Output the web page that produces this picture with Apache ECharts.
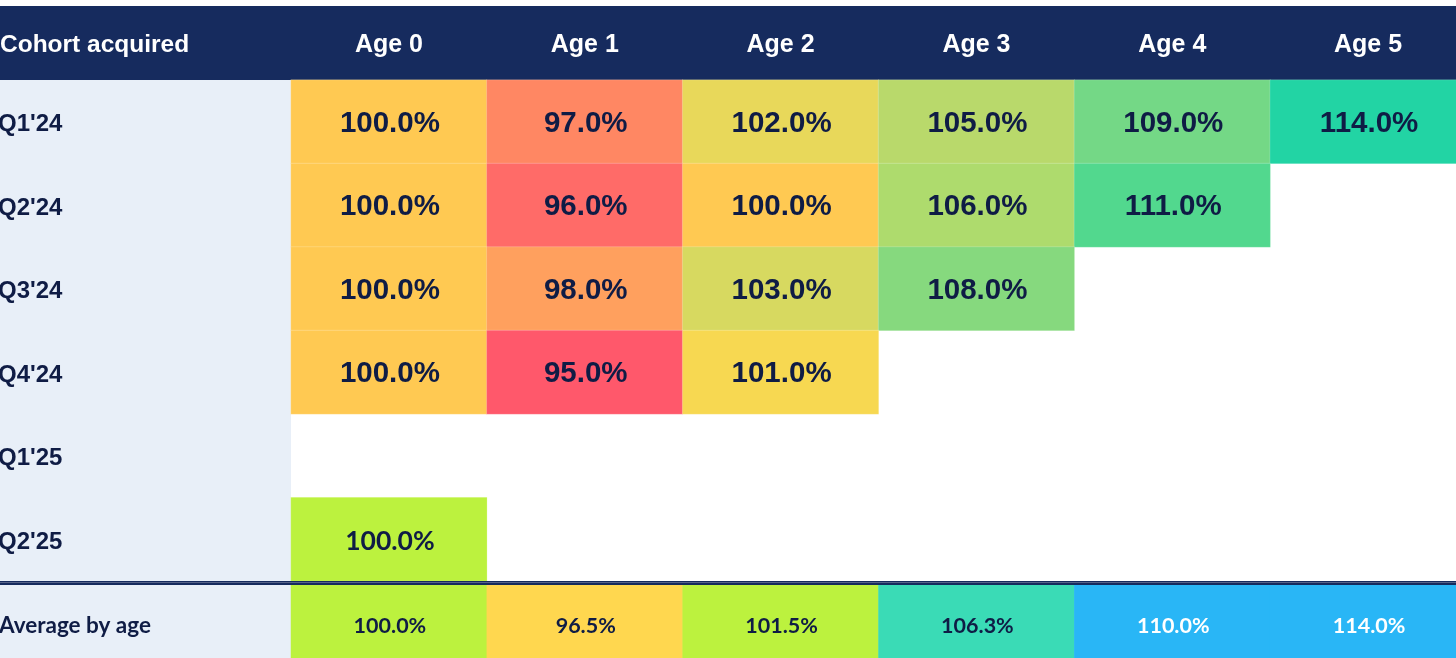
<!DOCTYPE html>
<html>
<head>
<meta charset="utf-8">
<script src="https://cdn.jsdelivr.net/npm/echarts@6/dist/echarts.min.js"></script>
<style>
  html, body { margin: 0; padding: 0; background: #fff; }
  #main { width: 1456px; height: 658px; }
</style>
</head>
<body>
<div id="main"></div>
<script>
// table data
var ages = ['Age 0', 'Age 1', 'Age 2', 'Age 3', 'Age 4', 'Age 5'];
var cohorts = ["Q1'24", "Q2'24", "Q3'24", "Q4'24", "Q1'25", "Q2'25"];
var q1_24 = [100.0, 97.0, 102.0, 105.0, 109.0, 114.0];
var q2_24 = [100.0, 96.0, 100.0, 106.0, 111.0];
var q3_24 = [100.0, 98.0, 103.0, 108.0];
var q4_24 = [100.0, 95.0, 101.0];
var q1_25 = [];
var q2_25 = [100.0];
var averageByAge = [100.0, 96.5, 101.5, 106.3, 110.0, 114.0];

var cohortRows = [q1_24, q2_24, q3_24, q4_24, q1_25, q2_25];

var navy = '#162b5e';
var ink = '#0f1c45';

// colour scale for the older cohorts (red -> yellow -> green)
var bodyStops = [
    [95, '#ff586b'], [96, '#ff6b68'], [97, '#ff8763'], [98, '#ffa05e'],
    [100, '#ffc952'], [101, '#f7d851'], [102, '#e8d85a'], [103, '#d7d960'],
    [105, '#b9d96b'], [106, '#aedb6d'], [108, '#86d97e'], [109, '#74d886'],
    [111, '#52d88e'], [114, '#22d4a4']
];

function hex2rgb(h) {
    return [parseInt(h.substr(1, 2), 16), parseInt(h.substr(3, 2), 16), parseInt(h.substr(5, 2), 16)];
}

function bodyColor(v) {
    if (v <= bodyStops[0][0]) return bodyStops[0][1];
    for (var i = 1; i < bodyStops.length; i++) {
        if (v <= bodyStops[i][0]) {
            var a = bodyStops[i - 1], b = bodyStops[i];
            var t = (v - a[0]) / (b[0] - a[0]);
            var ca = hex2rgb(a[1]), cb = hex2rgb(b[1]);
            return 'rgb(' + [0, 1, 2].map(function (k) {
                return Math.round(ca[k] + (cb[k] - ca[k]) * t);
            }).join(',') + ')';
        }
    }
    return bodyStops[bodyStops.length - 1][1];
}

// banded scale used for the newest cohort and the averages
function bandColor(v) {
    if (v < 98) return '#ffd74f';
    if (v < 104) return '#bcf23e';
    if (v < 108) return '#3adbb6';
    return '#29b6f6';
}

var bodyData = [];
var newData = [];
cohortRows.forEach(function (row, r) {
    row.forEach(function (v, c) {
        if (r >= 5) {
            newData.push({ value: [c, r, v], itemStyle: { color: bandColor(v) } });
        } else {
            bodyData.push({ value: [c, r, v], itemStyle: { color: bodyColor(v) } });
        }
    });
});

var avgData = averageByAge.map(function (v, c) {
    return {
        value: [c, 0, v],
        itemStyle: { color: bandColor(v) },
        label: { color: v >= 108 ? '#ffffff' : ink }
    };
});

function pct(p) { return p.value[2].toFixed(1) + '%'; }

var chart = echarts.init(document.getElementById('main'));

var option = {
    animation: false,
    graphic: [
        { type: 'rect', z: -10, shape: { x: 0, y: 6, width: 1456, height: 74 }, style: { fill: navy } },
        { type: 'rect', z: -10, shape: { x: 0, y: 80, width: 291, height: 578 }, style: { fill: '#e8eff8' } },
        { type: 'rect', z: 50, shape: { x: 0, y: 581, width: 1456, height: 4 }, style: { fill: navy } },
        { type: 'rect', z: 51, shape: { x: 0, y: 582.2, width: 1456, height: 0.7 }, style: { fill: '#6d7799' } },
        {
            type: 'text', z: 60, x: 0, y: 45,
            style: {
                text: 'Cohort acquired', fill: '#ffffff', fontSize: 24.5, fontWeight: 'bold',
                fontFamily: 'Liberation Sans', verticalAlign: 'middle', align: 'left'
            }
        }
    ],
    grid: [
        { left: 291, top: 80, width: 1175, height: 501, outerBoundsMode: 'none' },
        { left: 291, top: 585, width: 1175, height: 73, outerBoundsMode: 'none' }
    ],
    xAxis: [
        {
            type: 'category', gridIndex: 0, data: ages, position: 'top',
            axisLine: { show: false }, axisTick: { show: false }, splitLine: { show: false },
            axisLabel: {
                color: '#ffffff', fontSize: 25, fontWeight: 'bold', fontFamily: 'Liberation Sans',
                margin: 35, verticalAlign: 'middle'
            }
        },
        {
            type: 'category', gridIndex: 1, data: ages, show: false
        }
    ],
    yAxis: [
        {
            type: 'category', gridIndex: 0, data: cohorts, inverse: true,
            axisLine: { show: false }, axisTick: { show: false }, splitLine: { show: false },
            axisLabel: {
                align: 'left', margin: 293,
                formatter: function (v) { return '{q|' + v + '}'; },
                rich: {
                    q: {
                        color: ink, fontSize: 24, fontWeight: 'bold',
                        fontFamily: 'Liberation Sans', padding: [6, 0, 0, 0]
                    }
                }
            }
        },
        {
            type: 'category', gridIndex: 1, data: ['Average by age'],
            axisLine: { show: false }, axisTick: { show: false }, splitLine: { show: false },
            axisLabel: {
                align: 'left', margin: 292,
                formatter: function (v) { return '{a|' + v + '}'; },
                rich: {
                    a: {
                        color: ink, fontSize: 22.5, fontWeight: 'bold',
                        fontFamily: 'Lato', padding: [9, 0, 0, 0]
                    }
                }
            }
        }
    ],
    series: [
        {
            type: 'heatmap', xAxisIndex: 0, yAxisIndex: 0, data: bodyData,
            itemStyle: { borderColor: 'rgba(255,255,255,0.18)', borderWidth: 1 },
            label: {
                show: true, formatter: pct, color: ink, fontSize: 29.5, fontWeight: 'bold',
                fontFamily: 'Liberation Sans', offset: [1, 2]
            },
            emphasis: { disabled: true }
        },
        {
            type: 'heatmap', xAxisIndex: 0, yAxisIndex: 0, data: newData,
            itemStyle: { borderColor: 'rgba(255,255,255,0.18)', borderWidth: 1 },
            label: {
                show: true, formatter: pct, color: ink, fontSize: 26.5, fontWeight: 'bold',
                fontFamily: 'Lato', offset: [1, 2]
            },
            emphasis: { disabled: true }
        },
        {
            type: 'heatmap', xAxisIndex: 1, yAxisIndex: 1, data: avgData,
            label: {
                show: true, formatter: pct, fontSize: 21.5, fontWeight: 'bold',
                fontFamily: 'Lato', offset: [1, 5]
            },
            emphasis: { disabled: true }
        }
    ]
};

chart.setOption(option);
window.onresize = chart.resize;
</script>
</body>
</html>
